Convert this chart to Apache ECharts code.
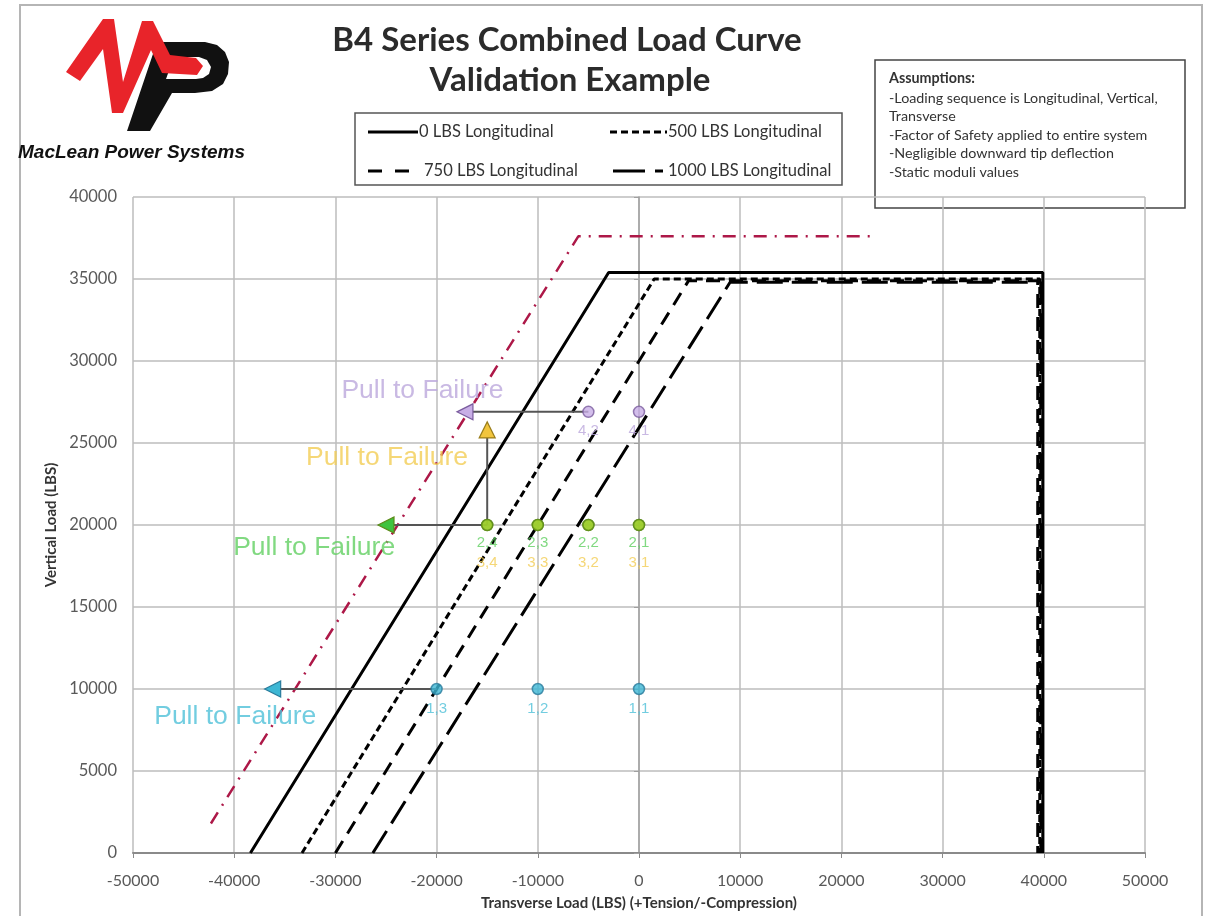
<!DOCTYPE html>
<html><head><meta charset="utf-8">
<script src="https://cdn.jsdelivr.net/npm/echarts@6/dist/echarts.min.js"></script>
<style>html,body{margin:0;padding:0;background:#fff}#c{width:1209px;height:916px}</style>
</head><body><div id="c"></div>
<script>
// ---- data ----
const curve0 = [[-38400,0],[-3000,35400],[39900,35400],[39900,0]];
const curve500 = [[-33300,0],[1500,35000],[39600,35000],[39600,0]];
const curve750 = [[-30000,0],[4900,34900],[39400,34900],[39400,0]];
const curve1000 = [[-26300,0],[9000,34800],[39700,34800],[39700,0]];
const envelope = [[-42300,1800],[-6000,37600],[23500,37600]];
const test1Points = [[0,10000],[-10000,10000],[-20000,10000]];
const test1Labels = ['1,1','1,2','1,3'];
const test2Points = [[0,20000],[-5000,20000],[-10000,20000],[-15000,20000]];
const test2Labels = ['2,1','2,2','2,3','2,4'];
const test3Labels = ['3,1','3,2','3,3','3,4'];
const test4Points = [[0,26900],[-5000,26900]];
const test4Labels = ['4,1','4,2'];
const pull1 = [[-20000,10000],[-36200,10000]];
const pull2 = [[-15000,20000],[-25000,20000]];
const pull3 = [[-15000,20000],[-15000,25800]];
const pull4 = [[-5000,26900],[-17200,26900]];
const pullText = 'Pull to Failure';
const pullLabelAt = [[-39900,8300],[-32100,18600],[-24900,24100],[-21400,28200]];
const legendNames = ['0 LBS Longitudinal','500 LBS Longitudinal','750 LBS Longitudinal','1000 LBS Longitudinal'];
const assumptionLines = ['-Loading sequence is Longitudinal, Vertical,','Transverse','-Factor of Safety applied to entire system','-Negligible downward tip deflection','-Static moduli values'];

// ---- styles ----
const FONT = 'Lato, "Open Sans", sans-serif';
const ARIAL = '"Liberation Sans", Arial, sans-serif';
const C = {
  cyan: {fill:'#3db7d4', border:'#2a7c9c', text:'#4fc0d8'},
  green:{fill:'#9ccd2c', border:'#5b8a18', text:'#62cf62', tri:'#3fc33f'},
  yellow:{fill:'#f2c53d', border:'#9a7d1a', text:'#f2cd55'},
  purple:{fill:'#c8aee6', border:'#7a5c9e', text:'#bca8dc'}
};

function curve(name, data, type, width, color) {
  return {type:'line', name, data, symbol:'none', z:3, animation:false,
    lineStyle:{color: color||'#000', width: width||3, type, cap:'butt'}};
}
function points(data, labels, col, offY, markCol) {
  const m = markCol || col;
  return {type:'scatter', data: data.map((d,i)=>({value:d, name:labels[i]})), z:5, animation:false,
    symbol:'circle', symbolSize:11,
    itemStyle:{color:m.fill, borderColor:m.border, borderWidth:1.5},
    label:{show:true, position:'inside', offset:[0,offY], formatter:p=>p.name,
      color:col.text, fontFamily:ARIAL, fontSize:15}};
}
function arrow(data, col, rot) {
  return {type:'line', data:[{value:data[0], symbol:'none'},
      {value:data[1], symbol:'triangle', symbolSize:16, symbolRotate:rot}],
    z:4, animation:false, showSymbol:true,
    lineStyle:{color:'#555', width:2},
    itemStyle:{color:col.tri||col.fill, borderColor:col.border, borderWidth:1.2}};
}
function pullLabel(at, col) {
  return {type:'scatter', data:[at], symbol:'circle', symbolSize:1, z:6, animation:false,
    itemStyle:{color:'rgba(0,0,0,0)'}, silent:true,
    label:{show:true, position:'inside', formatter:pullText, color:col.text, fontFamily:ARIAL, fontSize:26.5}};
}

const chart = echarts.init(document.getElementById('c'), null, {renderer:'canvas'});

const legendY = [132, 171];
const LF = '16.5px ' + FONT;
const AF = '14.3px ' + FONT;
const graphics = [
  {type:'rect', shape:{x:20,y:5,width:1182,height:930}, style:{fill:'none', stroke:'#b5b5b5', lineWidth:2}, z:0},
  // logo
  {type:'polygon', shape:{points:[[157,42],[205,42],[217,45],[225,52],[229,62],[228,74],[223,84],[212,91],[195,93],[172,93],[150,131],[127,131]]}, style:{fill:'#111'}},
  {type:'polygon', shape:{points:[[174,57],[199,57],[207,60],[211,67],[209,74],[203,78],[196,79],[166,79]]}, style:{fill:'#fff'}},
  {type:'polygon', shape:{points:[[66,72],[103,19],[114,19],[123,82],[142,21],[153,21],[170,55],[196,58],[203,66],[197,75],[162,73],[151,50],[123,113],[112,113],[103,49],[80,81]]},
    style:{fill:'#e8242a'}},
  {type:'text', style:{x:18, y:153, text:'MacLean Power Systems', font:'italic bold 19px "Liberation Sans", Arial, sans-serif', fill:'#111', verticalAlign:'middle'}},
  // title
  {type:'text', style:{x:567, y:40, text:'B4 Series Combined Load Curve', font:'bold 33px '+FONT, fill:'#2b2b2b', align:'center', verticalAlign:'middle'}},
  {type:'text', style:{x:570, y:80, text:'Validation Example', font:'bold 33px '+FONT, fill:'#2b2b2b', align:'center', verticalAlign:'middle'}},
  // legend box
  {type:'rect', shape:{x:355,y:113,width:487,height:72}, style:{fill:'#fff', stroke:'#555', lineWidth:1.5}},
  {type:'line', shape:{x1:368,y1:legendY[0],x2:418,y2:legendY[0]}, style:{stroke:'#000', lineWidth:3}},
  {type:'text', style:{x:419, y:legendY[0], text:legendNames[0], font:LF, fill:'#333', verticalAlign:'middle'}},
  {type:'line', shape:{x1:610,y1:legendY[0],x2:667,y2:legendY[0]}, style:{stroke:'#000', lineWidth:3, lineDash:[7,4]}},
  {type:'text', style:{x:668, y:legendY[0], text:legendNames[1], font:LF, fill:'#333', verticalAlign:'middle'}},
  {type:'line', shape:{x1:368,y1:legendY[1],x2:409,y2:legendY[1]}, style:{stroke:'#000', lineWidth:3, lineDash:[14,13]}},
  {type:'text', style:{x:424, y:legendY[1], text:legendNames[2], font:LF, fill:'#333', verticalAlign:'middle'}},
  {type:'line', shape:{x1:613,y1:legendY[1],x2:663,y2:legendY[1]}, style:{stroke:'#000', lineWidth:3, lineDash:[32,10]}},
  {type:'text', style:{x:668, y:legendY[1], text:legendNames[3], font:LF, fill:'#333', verticalAlign:'middle'}},
  // assumptions
  {type:'rect', shape:{x:875,y:60,width:310,height:148}, style:{fill:'#fff', stroke:'#444', lineWidth:1.5}},
  {type:'text', style:{x:889, y:78, text:'Assumptions:', font:'bold '+AF, fill:'#333', verticalAlign:'middle'}}
];
assumptionLines.forEach((t,i)=>graphics.push({type:'text', style:{x:889, y:98+i*18.6, text:t, font:AF, fill:'#333', verticalAlign:'middle'}}));

chart.setOption({
  animation:false,
  backgroundColor:'#fff',
  grid:{left:133, right:64, top:197, bottom:59, containLabel:false},
  xAxis:{type:'value', min:-50000, max:50000, interval:10000,
    name:'Transverse Load (LBS) (+Tension/-Compression)', nameLocation:'middle', nameGap:43,
    nameTextStyle:{fontFamily:FONT, fontWeight:'bold', fontSize:15, color:'#333'},
    axisLine:{show:true, onZero:false, lineStyle:{color:'#8a8a8a', width:2}},
    axisTick:{show:true, length:5, lineStyle:{color:'#8a8a8a'}},
    axisLabel:{fontFamily:FONT, fontSize:16, color:'#595959', margin:20, formatter:v=>String(v)},
    splitLine:{show:true, lineStyle:{color:'#bdbdbd', width:1.5}}},
  yAxis:{type:'value', min:0, max:40000, interval:5000,
    name:'Vertical Load (LBS)', nameLocation:'middle', nameGap:73, nameRotate:90,
    nameTextStyle:{fontFamily:FONT, fontWeight:'bold', fontSize:15, color:'#333'},
    axisLine:{show:true, lineStyle:{color:'#a0a0a0', width:1.5}},
    axisTick:{show:true, length:5, lineStyle:{color:'#a0a0a0'}},
    axisLabel:{fontFamily:FONT, fontSize:16.5, color:'#595959', margin:16, formatter:v=>String(v)},
    splitLine:{show:true, lineStyle:{color:'#bdbdbd', width:1.5}}},
  graphic: graphics,
  series:[
    curve('envelope', envelope, [13,8,2,8], 2.5, '#ad1848'),
    curve(legendNames[0], curve0, 'solid', 3),
    curve(legendNames[1], curve500, [7,4], 3),
    curve(legendNames[2], curve750, [14,9], 3),
    curve(legendNames[3], curve1000, [26,9], 3),
    arrow(pull1, C.cyan, 90),
    arrow(pull2, C.green, 90),
    arrow(pull3, C.yellow, 0),
    arrow(pull4, C.purple, 90),
    points(test1Points, test1Labels, C.cyan, 20),
    points(test2Points, test2Labels, C.green, 18),
    points(test2Points, test3Labels, C.yellow, 38, C.green),
    points(test4Points, test4Labels, C.purple, 19),
    pullLabel(pullLabelAt[0], C.cyan),
    pullLabel(pullLabelAt[1], C.green),
    pullLabel(pullLabelAt[2], C.yellow),
    pullLabel(pullLabelAt[3], C.purple)
  ]
});
</script></body></html>
